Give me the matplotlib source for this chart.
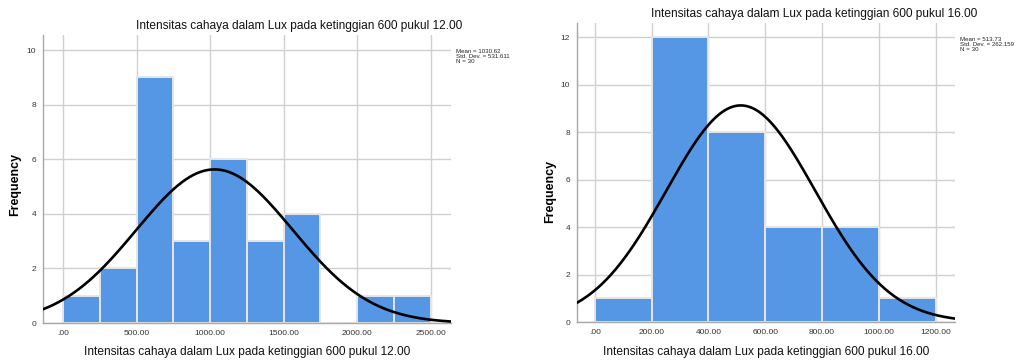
"""
Histogram intensitas cahaya (Lux) pada ketinggian 600, pukul 12.00 dan 16.00,
dengan kurva normal di atasnya (gaya keluaran SPSS).
"""

import numpy as np
import matplotlib
matplotlib.use('Agg')
import matplotlib.pyplot as plt

plt.rcParams['font.family'] = ['Liberation Sans', 'DejaVu Sans']

# ------------------------------------------------------------
# Data
# ------------------------------------------------------------
title_12 = 'Intensitas cahaya dalam Lux pada ketinggian 600 pukul 12.00'
edges_12 = [0, 250, 500, 750, 1000, 1250, 1500, 1750, 2000, 2250, 2500]
counts_12 = [1, 2, 9, 3, 6, 3, 4, 0, 1, 1]
mean_12, sd_12, n_12 = 1030.62, 531.611, 30
xticks_12 = [0, 500, 1000, 1500, 2000, 2500]
yticks_12 = [0, 2, 4, 6, 8, 10]

title_16 = 'Intensitas cahaya dalam Lux pada ketinggian 600 pukul 16.00'
edges_16 = [0, 200, 400, 600, 800, 1000, 1200]
counts_16 = [1, 12, 8, 4, 4, 1]
mean_16, sd_16, n_16 = 513.73, 262.159, 30
xticks_16 = [0, 200, 400, 600, 800, 1000, 1200]
yticks_16 = [0, 2, 4, 6, 8, 10, 12]

BAR = '#5596e5'
GRID = '#d0d0d0'


def fmt_tick(v):
    s = f'{v:.2f}'
    return s[1:] if s.startswith('0') else s


def draw_hist(ax, edges, counts, mean, sd, n, xticks, yticks, xlim, ylim):
    edges = np.asarray(edges, dtype=float)
    width = edges[1] - edges[0]
    ax.bar(edges[:-1], counts, width=width, align='edge', color=BAR,
           edgecolor='#e6e6e6', linewidth=1.4, zorder=2)

    # kurva normal diskalakan ke frekuensi
    x = np.linspace(xlim[0], xlim[1], 400)
    y = n * width / (sd * np.sqrt(2 * np.pi)) * np.exp(-0.5 * ((x - mean) / sd) ** 2)
    ax.plot(x, y, color='black', lw=1.9, zorder=3)

    ax.set_xlim(*xlim)
    ax.set_ylim(*ylim)
    ax.set_xticks(xticks)
    ax.set_xticklabels([fmt_tick(v) for v in xticks])
    ax.set_yticks(yticks)
    ax.tick_params(length=0, labelsize=6, colors='#333333', pad=5)
    ax.grid(True, color=GRID, lw=1.0, zorder=0)
    ax.set_axisbelow(True)
    for s in ['top', 'right']:
        ax.spines[s].set_visible(False)
    for s in ['left', 'bottom']:
        ax.spines[s].set_color('#a8a8a8')
        ax.spines[s].set_linewidth(1.0)


fig = plt.figure(figsize=(10.24, 3.61), dpi=100)

ax1 = fig.add_axes([0.042, 0.105, 0.398, 0.798])
draw_hist(ax1, edges_12, counts_12, mean_12, sd_12, n_12,
          xticks_12, yticks_12, (-136, 2636), (0, 10.55))

ax2 = fig.add_axes([0.5635, 0.108, 0.369, 0.828])
draw_hist(ax2, edges_16, counts_16, mean_16, sd_16, n_16,
          xticks_16, yticks_16, (-63, 1268), (0, 12.6))

# judul, label sumbu dan statistik
fig.text(0.292, 0.928, title_12, ha='center', va='center', fontsize=8.6, color='#111111')
fig.text(0.795, 0.961, title_16, ha='center', va='center', fontsize=8.6, color='#111111')
fig.text(0.241, 0.025, title_12, ha='center', va='center', fontsize=8.6, color='#111111')
fig.text(0.748, 0.025, title_16, ha='center', va='center', fontsize=8.6, color='#111111')
fig.text(0.015, 0.49, 'Frequency', rotation=90, ha='center', va='center',
         fontsize=9, fontweight='bold')
fig.text(0.537, 0.47, 'Frequency', rotation=90, ha='center', va='center',
         fontsize=9, fontweight='bold')

fig.text(0.445, 0.865, f'Mean = {mean_12:.2f}\nStd. Dev. = {sd_12:.3f}\nN = {n_12}',
         ha='left', va='top', fontsize=4.4, linespacing=1.0, color='#222222')
fig.text(0.9375, 0.898, f'Mean = {mean_16:.2f}\nStd. Dev. = {sd_16:.3f}\nN = {n_16}',
         ha='left', va='top', fontsize=4.4, linespacing=1.0, color='#222222')

fig.savefig('out.png', dpi=100)
